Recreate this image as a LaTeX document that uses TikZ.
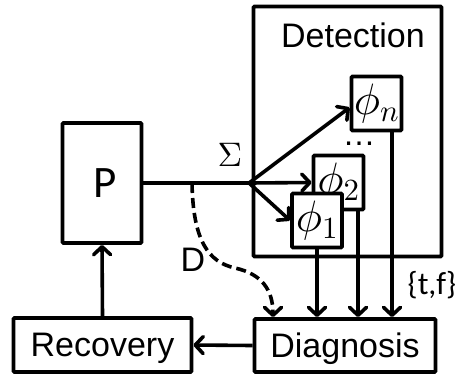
\documentclass[tikz,border=0pt]{standalone}
\usepackage[no-math]{fontspec}
\DeclareFontShape{OML}{cmm}{m}{it}{<-> cmmi10}{}
\DeclareFontShape{OT1}{cmr}{m}{n}{<-> cmr10}{}
\DeclareFontShape{OMS}{cmsy}{m}{n}{<-> cmsy10}{}
\newfontfamily\arialf{Liberation Sans}
\newfontfamily\calibf{Carlito}
\usetikzlibrary{arrows.meta,shadows}
\begin{document}
\begin{tikzpicture}[x=1pt,y=-1pt,
  box/.style={draw, line width=3.8pt, fill=white, inner sep=0pt, rounded corners=1pt},
  lbl/.style={font=\arialf\fontsize{34}{37}\selectfont, text depth=0pt},
  phibox/.style={box, minimum width=50pt, minimum height=54pt, font=\fontsize{44}{50}\selectfont},
  conn/.style={line width=3.6pt, -{Straight Barb[length=8pt,width=17pt,round]}},
]
\useasboundingbox (0,0) rectangle (457,376);
% Detection frame
\node[box, drop shadow={shadow xshift=1.5pt, shadow yshift=-1.5pt, opacity=0.3}, minimum width=188pt, minimum height=250pt] (det) at (347.5,131.5) {};
\node[lbl, inner sep=0pt, anchor=base] (dett) at (353,47) {Detection};
% detectors
\node[phibox] (phin) at (376.5,103.5) {$\phi_n$};
\node[phibox] (phi2) at (338.5,182.5) {$\phi_2$};
\node[phibox] (phi1) at (317,220.5) {$\phi_1$};
\node[font=\arialf\fontsize{33}{36}\selectfont, inner sep=0pt] (dots) at (359,144) {…};
% main boxes
\node[box, minimum width=79pt, minimum height=120pt, font=\calibf\fontsize{45}{50}\selectfont, text depth=0pt] (P) at (102,183) {\hspace*{6pt}P};
\node[box, lbl, minimum width=178pt, minimum height=54pt] (rec) at (102.5,345) {Recovery};
\node[box, lbl, minimum width=181pt, minimum height=53pt] (diag) at (345,345.5) {Diagnosis};
% labels
\node[inner sep=0pt, font=\fontsize{34}{40}\selectfont] (sig) at (230,155) {$\Sigma$};
\node[lbl, inner sep=0pt] (dl) at (193,260) {D};
\node[font=\calibf\fontsize{32}{35}\selectfont, inner sep=0pt] (tf) at (432,285) {\{t,f\}};
% coordinates
\coordinate (J) at (249,183);
\coordinate (ds) at (192,183);
\coordinate (dx) at (273,0);
\coordinate (o2) at ([xshift=19.5pt]phi2.south);
\coordinate (on) at ([xshift=15.5pt]phin.south);
% connectors
\draw[line width=3.6pt] (P.east) -- (J);
\draw[conn] (J) -- ([yshift=-4pt]phin.west);
\draw[conn] (J) -- (phi2.west);
\draw[conn] (J) -- (phi1.west);
\draw[conn] (phi1.south) -- (phi1.south |- diag.north);
\draw[conn] (o2) -- (o2 |- diag.north);
\draw[conn] (on) -- (on |- diag.north);
\draw[conn] (diag.west) -- (rec.east);
\draw[conn] (rec.north) -- (P.south);
\draw[conn, dash pattern=on 10pt off 5pt] (ds) .. controls (193,240) and (208,262) .. (235,268) .. controls (262,274) and (273,290) .. (dx |- diag.north);
\end{tikzpicture}
\end{document}
